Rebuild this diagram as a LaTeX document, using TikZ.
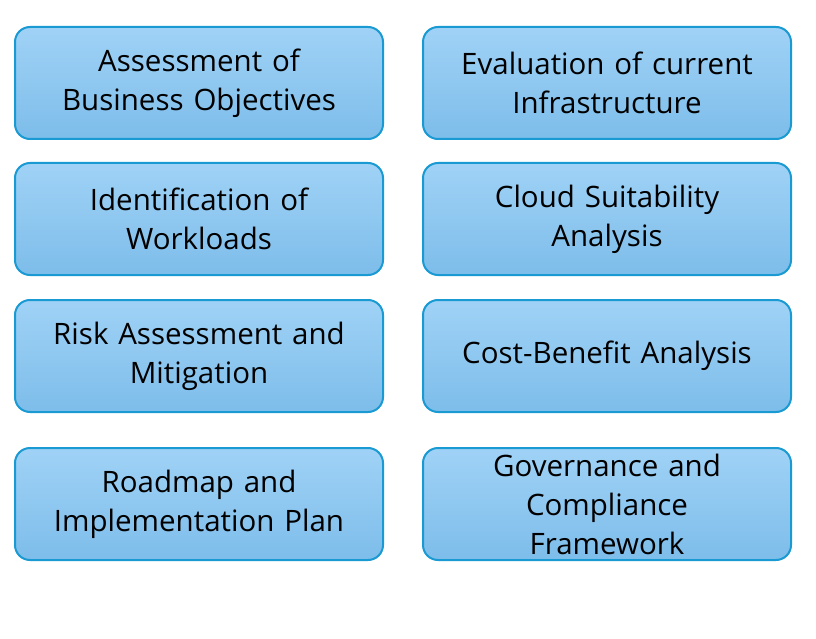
\documentclass[tikz,border=0pt]{standalone}
\usepackage{fontspec}
\setmainfont{Open Sans}
\definecolor{boxtop}{HTML}{A0D2F6}
\definecolor{boxbot}{HTML}{7DBDEA}
\definecolor{boxline}{HTML}{1A9AD2}
\begin{document}
\begin{tikzpicture}[
    x=1pt, y=1pt,
    font=\fontsize{29.5}{39}\selectfont,
    stepbox/.style={rectangle, rounded corners=15pt, draw=boxline, line width=2pt, top color=boxtop, bottom color=boxbot, text centered, minimum width=368pt, minimum height=112pt, text width=366pt, inner sep=0pt}
]
\useasboundingbox (0,0) rectangle (816,-639);

% --- Nodes ---
% Left column
\node (objectives) at (199, -83) [stepbox] {Assessment of\\ Business Objectives};
\node (workloads) at (199, -219) [stepbox] {Identification of\\ Workloads};
\node (risk) at (199, -356) [stepbox] {Risk Assessment and\\ Mitigation};
\node (roadmap) at (199, -504) [stepbox] {Roadmap and\\ Implementation Plan};

% Right column
\node (infra) at (607, -83) [stepbox] {Evaluation of current\\ Infrastructure};
\node (suitability) at (607, -219) [stepbox] {Cloud Suitability\\ Analysis};
\node (costbenefit) at (607, -356) [stepbox] {Cost-Benefit Analysis};
\node (governance) at (607, -504) [stepbox] {Governance and\\ Compliance\\ Framework};

\end{tikzpicture}
\end{document}
